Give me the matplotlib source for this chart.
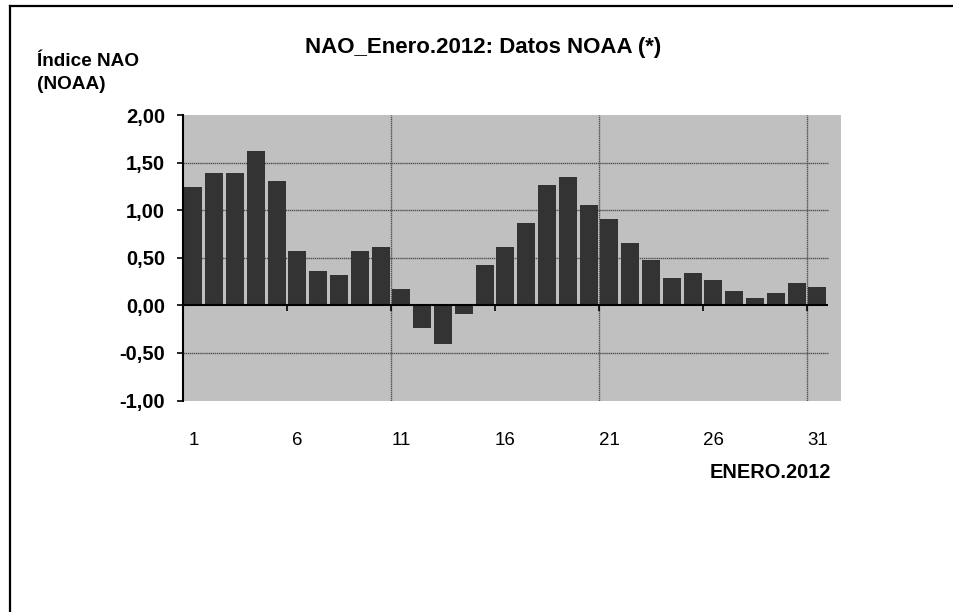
import matplotlib
matplotlib.use("Agg")
import matplotlib.pyplot as plt
from matplotlib.lines import Line2D

days = list(range(1, 32))
nao = [1.24, 1.39, 1.39, 1.62, 1.31, 0.57, 0.36, 0.32, 0.57, 0.61,
       0.17, -0.24, -0.41, -0.09, 0.42, 0.61, 0.86, 1.26, 1.35, 1.05,
       0.91, 0.65, 0.48, 0.29, 0.34, 0.27, 0.15, 0.08, 0.13, 0.23, 0.19]
yticks = [-1.0, -0.5, 0.0, 0.5, 1.0, 1.5, 2.0]
ytick_labels = ["-1,00", "-0,50", "0,00", "0,50", "1,00", "1,50", "2,00"]
xtick_days = [1, 6, 11, 16, 21, 26, 31]
title = "NAO_Enero.2012: Datos NOAA (*)"
ylabel = "Índice NAO\n(NOAA)"
xlabel = "ENERO.2012"

plt.rcParams['font.family'] = ['Liberation Sans', 'DejaVu Sans']

W, H = 954, 612
fig = plt.figure(figsize=(W / 100, H / 100), dpi=100)

def fx(px):
    return px / W

def fy(py):
    return 1 - py / H

left, right, top, bottom = 183, 841, 115, 400.5
ax = fig.add_axes([fx(left), fy(bottom), fx(right - left), (bottom - top) / H])
ax.set_facecolor('#C0C0C0')

cat_px = 20.8
xmin = 0.5
xmax = 0.5 + (right - left) / cat_px
last = 31.5
ax.set_xlim(xmin, xmax)
ax.set_ylim(-1.0, 2.0)

# gridlines
for yv in [-0.5, 0.5, 1.0, 1.5]:
    ax.hlines(yv, xmin, last, colors='#505050', linewidth=1.0,
              linestyles=(0, (1, 0.5)), zorder=1)
for xv in [10.5, 20.5, 30.5]:
    ax.vlines(xv, -1.0, 2.0, colors='#505050', linewidth=1.0,
              linestyles=(0, (1, 0.5)), zorder=1)

ax.bar(days, nao, width=0.87, color='#333333', zorder=2)

# zero axis line
ax.hlines(0, xmin, last, colors='black', linewidth=1.5, zorder=3)
# x ticks at category boundaries, on zero line
for b in [5.5, 10.5, 15.5, 20.5, 25.5, 30.5]:
    ax.vlines(b, -0.055, 0, colors='black', linewidth=1.2, zorder=3)

for s in ['top', 'right', 'bottom']:
    ax.spines[s].set_visible(False)
ax.spines['left'].set_linewidth(1.5)
ax.spines['left'].set_color('black')

ax.set_yticks(yticks)
ax.set_yticklabels(ytick_labels, fontsize=14.5, fontweight='bold')
ax.tick_params(axis='y', length=4, width=1.2, pad=9, direction='out')
ax.set_xticks([])

xlab_y = -1.0 - (440 - bottom) / 95.0
for d in xtick_days:
    ax.text(d, xlab_y, str(d), ha='center', va='center', fontsize=13.5)

fig.text(fx(483), fy(47), title, ha='center', va='center', fontsize=16,
         fontweight='bold')
fig.text(fx(37), fy(73), ylabel, ha='left', va='center', fontsize=13.7,
         fontweight='bold', linespacing=1.4)
fig.text(fx(831), fy(472), xlabel, ha='right', va='center', fontsize=14.4,
         fontweight='bold')

# frame lines (top and left)
fig.add_artist(Line2D([fx(10), 1.0], [fy(6), fy(6)], color='black', linewidth=1.6,
                      transform=fig.transFigure))
fig.add_artist(Line2D([fx(10), fx(10)], [fy(6), 0.0], color='black', linewidth=1.6,
                      transform=fig.transFigure))

fig.savefig("out.png", dpi=100)
